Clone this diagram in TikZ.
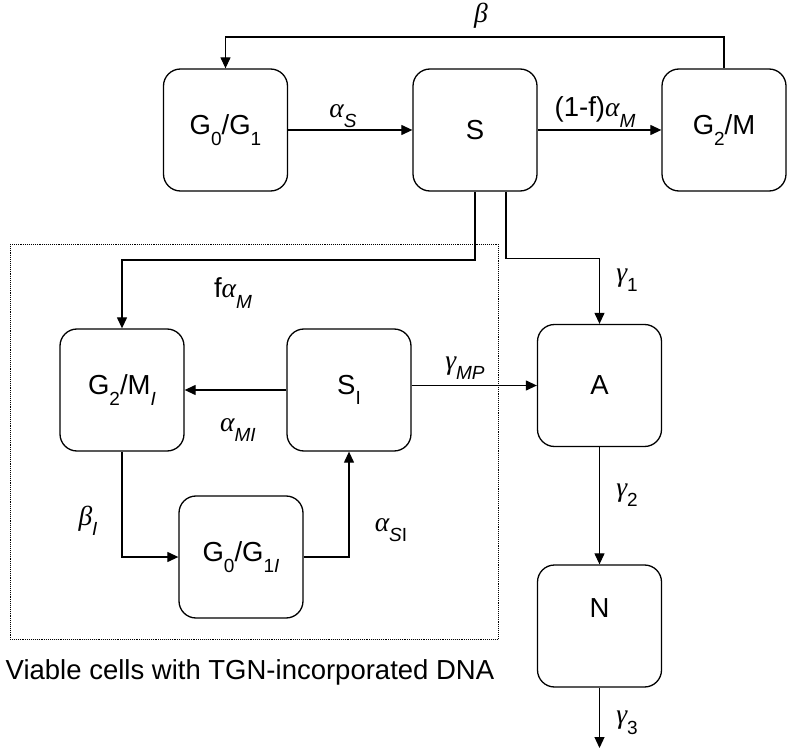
\documentclass[tikz,border=0pt]{standalone}
\usepackage{fontspec}
\setmainfont{Liberation Sans}
\newfontfamily\greekfont{Liberation Serif}
\usepackage{tikz}
\usetikzlibrary{arrows.meta}
\newcommand{\gk}[1]{{\greekfont\itshape #1}}
\newcommand{\lo}[1]{\raisebox{-0.38em}{\fontsize{19}{19}\selectfont #1}}
\tikzstyle{phase}=[draw=black,line width=1.3pt,rounded corners=17pt,minimum width=124pt,minimum height=122pt,inner sep=0pt,font=\fontsize{27.5}{32}\selectfont]
\tikzstyle{rate}=[inner sep=0pt,font=\fontsize{27.5}{32}\selectfont]
\tikzstyle{flow}=[line width=1.2pt,-{Triangle[length=11pt,width=10pt]}]
\tikzstyle{pool}=[line width=0.9pt,densely dotted]

\begin{document}
\begin{tikzpicture}[x=1pt,y=-1pt]
    \useasboundingbox (0,0) rectangle (788,749);
    % normal cells
    \node [phase] (g01) at (225.5,130) {G\lo{0}/G\lo{1}};
    \node [phase] (s) at (475,130) {S};
    \node [phase] (g2m) at (724,130) {G\lo{2}/M};
    \node [phase] (a) at (599.5,385.5) {A};
    \node [phase,text depth=36pt] (n) at (599.5,626) {N};
    % cells with TGN in the DNA
    \draw [pool] (10,244) rectangle (498,639);
    \node [phase] (g2mi) at (122,390) {G\lo{2}/M\lo{\itshape I}};
    \node [phase] (si) at (349,390) {S\lo{I}};
    \node [phase] (g01i) at (241,557) {G\lo{0}/G\lo{1\itshape I}};
    \node [rate] (pooltext) at (250,672) {Viable cells with TGN-incorporated DNA};

    \draw [flow] (g01) -- (s);
    \draw [flow] (s) -- (g2m);
    \draw [flow] (g2m.north) -- (g2m.north |- 0,37) -| (g01.north);
    \draw [flow] (s.south) -- (s.south |- 0,260) -| (g2mi.north);
    \draw [flow] ([xshift=31pt]s.south) -- ++(0,67) -| (a.north);
    \draw [flow] (si) -- (g2mi);
    \draw [flow] (a.west -| si.east) -- (a.west);
    \draw [flow] (g2mi.south) |- (g01i.west);
    \draw [flow] (g01i.east) -| (si.south);
    \draw [flow] (a) -- (n);
    \coordinate (death) at (599.5,748);
    \draw [flow] (n) -- (death);

    \node [rate] (rs) at (343,116) {\gk{α}\lo{\itshape S}};
    \node [rate] (rm) at (595,112) {(1-f)\gk{α}\lo{\itshape M}};
    \node [rate] (rb) at (481,16) {\gk{β}};
    \node [rate] (rfm) at (233,293) {f\gk{α}\lo{\itshape M}};
    \node [rate] (rg1) at (627,280) {\gk{γ}\lo{1}};
    \node [rate] (rmi) at (238,430) {\gk{α}\lo{\itshape MI}};
    \node [rate] (rmp) at (465,368) {\gk{γ}\lo{\itshape MP}};
    \node [rate] (rbi) at (88,521) {\gk{β}\lo{\itshape I}};
    \node [rate] (rsi) at (391,530) {\gk{α}\lo{{\itshape S}I}};
    \node [rate] (rg2) at (627,495) {\gk{γ}\lo{2}};
    \node [rate] (rg3) at (627,723) {\gk{γ}\lo{3}};
\end{tikzpicture}
\end{document}
